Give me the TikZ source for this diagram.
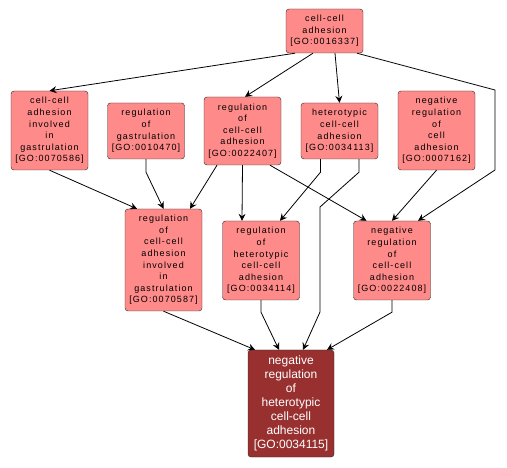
\documentclass[tikz,border=0pt]{standalone}
\usepackage{fontspec}
\setmainfont{Liberation Sans}
\newfontfamily\termfont[LetterSpace=12]{Liberation Sans}
\usetikzlibrary{arrows.meta}
\definecolor{termfill}{RGB}{255,138,138}
\definecolor{focusfill}{RGB}{153,48,48}

\begin{document}
\begin{tikzpicture}[x=1pt,y=-1pt,
  term/.style={draw=black!85,fill=termfill,rounded corners=3pt,align=center,inner sep=0pt,
    minimum width=77pt,font=\termfont\fontsize{9}{11.6}\selectfont},
  focus/.style={term,fill=focusfill,text=white,minimum width=86pt,font=\fontsize{12}{14}\selectfont},
  isa/.style={-{Stealth[length=7pt,width=7pt,inset=2.5pt]},line width=0.8pt}]

\useasboundingbox (0,0) rectangle (507,468);

\node[term,minimum height=44pt](top) at (324.5,31) {cell-cell\\adhesion\\{[GO:0016337]}};
\node[term,minimum height=79pt](a) at (49.5,130.5) {cell-cell\\adhesion\\involved\\in\\gastrulation\\{[GO:0070586]}};
\node[term,minimum height=56pt](b) at (146,131) {regulation\\of\\gastrulation\\{[GO:0010470]}};
\node[term,minimum height=68pt](c) at (242.5,131) {regulation\\of\\cell-cell\\adhesion\\{[GO:0022407]}};
\node[term,minimum height=56pt](d) at (339.5,131) {heterotypic\\cell-cell\\adhesion\\{[GO:0034113]}};
\node[term,minimum height=79pt](e) at (436.5,130.5) {negative\\regulation\\of\\cell\\adhesion\\{[GO:0007162]}};
\node[term,minimum height=102pt](f) at (163.5,260) {regulation\\of\\cell-cell\\adhesion\\involved\\in\\gastrulation\\{[GO:0070587]}};
\node[term,minimum height=79pt](g) at (261,260.5) {regulation\\of\\heterotypic\\cell-cell\\adhesion\\{[GO:0034114]}};
\node[term,minimum height=79pt](h) at (392,260.5) {negative\\regulation\\of\\cell-cell\\adhesion\\{[GO:0022408]}};
\node[focus,minimum height=107pt](i) at (291,403.5) {negative\\regulation\\of\\heterotypic\\cell-cell\\adhesion\\{[GO:0034115]}};

\draw[isa]([xshift=-29.5pt]top.south)--(a.north);
\draw[isa]([xshift=-11.5pt]top.south)--([xshift=2.5pt]c.north);
\draw[isa]([xshift=10.5pt]top.south)--(d.north);
\draw[isa]([xshift=32.5pt]top.south)--(495,90)--(495,170)--([xshift=26pt]h.north);

\draw[isa](a.south)--([xshift=-26.5pt]f.north);
\draw[isa](b.south)--++(0,13)--(f.north);
\draw[isa]([xshift=-25.5pt]c.south)--([xshift=26.5pt]f.north);
\draw[isa](c.south)--([xshift=-19pt]g.north);
\draw[isa]([xshift=27.5pt]c.south)--([xshift=-25.5pt]h.north);
\draw[isa]([xshift=-19pt]d.south)--++(0,13)--([xshift=19pt]g.north);
\draw[isa]([xshift=19.5pt]d.south)--++(0,13)--(320,207)--(320,312)--([xshift=12pt]i.north);
\draw[isa](e.south)--(h.north);

\draw[isa](f.south)--([xshift=-36pt]i.north);
\draw[isa](g.south)--++(0,12)--([xshift=-12pt]i.north);
\draw[isa](h.south)--++(0,12)--([xshift=36pt]i.north);
\end{tikzpicture}
\end{document}
